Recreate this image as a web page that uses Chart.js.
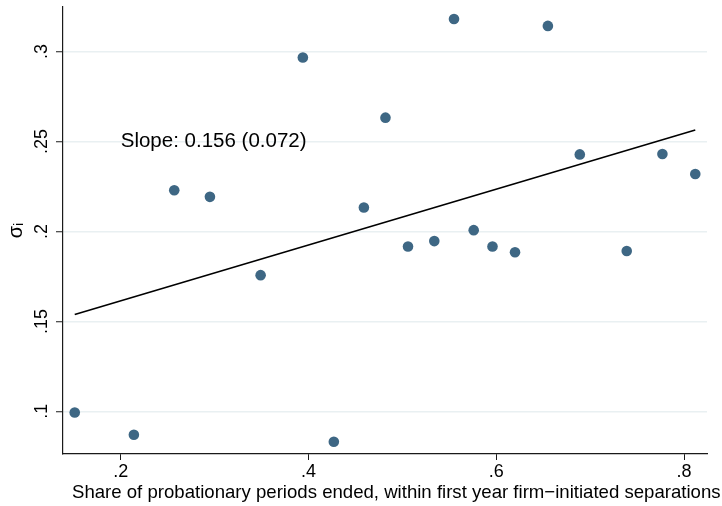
<!DOCTYPE html>
<html>
<head>
<meta charset="utf-8">
<script src="https://cdn.jsdelivr.net/npm/chart.js@4/dist/chart.umd.min.js"></script>
<style>
  html, body { margin: 0; padding: 0; background: #fff; }
  #wrap { width: 722px; height: 506px; position: relative; }
</style>
</head>
<body>
<div id="wrap"><canvas id="scatterChart"></canvas></div>
<script>
// DATA
const shareEnded = [0.151, 0.214, 0.257, 0.295, 0.349, 0.394, 0.427, 0.459, 0.482, 0.506,
                    0.534, 0.555, 0.576, 0.596, 0.620, 0.655, 0.689, 0.739, 0.777, 0.812];
const sigmaI = [0.0994, 0.0870, 0.2229, 0.2192, 0.1757, 0.2966, 0.0831, 0.2133, 0.2632, 0.1916,
                0.1946, 0.3180, 0.2007, 0.1916, 0.1884, 0.3142, 0.2428, 0.1891, 0.2430, 0.2319];

// fitted line end points
const fitX = [0.151, 0.812];
const fitY = [0.1538, 0.2564];

const xTicks = [0.2, 0.4, 0.6, 0.8];
const yTicks = [0.1, 0.15, 0.2, 0.25, 0.3];
const xRange = [0.1385, 0.8245];
const yRange = [0.0763, 0.3247];

const slopeText = "Slope: 0.156 (0.072)";
const slopeAt = [0.2, 0.25];

const xTitle = "Share of probationary periods ended, within first year firm\u2212initiated separations";
const yTitle = "\u03C3\u1D62";

const FONT = '"Liberation Sans", Arial, Helvetica, sans-serif';
const dotColor = "#3e6784";
const gridColor = "#e9f0f2";
const axisColor = "#1a1a1a";

// ".2" style labels, like Stata
function fmt(v) {
  return String(+v.toFixed(3)).replace(/^0\./, ".");
}

// y tick labels drawn rotated, the x title, and the slope note
const overlay = {
  id: "overlay",
  afterDraw(chart) {
    const { ctx, scales: { x, y } } = chart;
    ctx.save();
    ctx.fillStyle = "#000";
    ctx.font = "18px " + FONT;
    ctx.textAlign = "center";
    ctx.textBaseline = "alphabetic";
    yTicks.forEach(v => {
      ctx.save();
      ctx.translate(47, y.getPixelForValue(v));
      ctx.rotate(-Math.PI / 2);
      ctx.fillText(fmt(v), 0, 0);
      ctx.restore();
    });

    // x title (overhangs the plot on the right, as in the original)
    ctx.font = "18.6px " + FONT;
    ctx.textAlign = "left";
    ctx.fillText(xTitle, 72, 498);

    ctx.font = "20.5px " + FONT;
    ctx.textBaseline = "middle";
    ctx.fillText(slopeText, x.getPixelForValue(slopeAt[0]), y.getPixelForValue(slopeAt[1]));
    ctx.restore();
  }
};

const ctx = document.getElementById("scatterChart").getContext("2d");

new Chart(ctx, {
  data: {
    datasets: [
      {
        type: "scatter",
        data: shareEnded.map((v, i) => ({ x: v, y: sigmaI[i] })),
        backgroundColor: dotColor,
        borderColor: dotColor,
        borderWidth: 0,
        pointRadius: 5.3,
        order: 2
      },
      {
        type: "line",
        data: fitX.map((v, i) => ({ x: v, y: fitY[i] })),
        borderColor: "#000",
        borderWidth: 1.6,
        pointRadius: 0,
        fill: false,
        tension: 0,
        order: 1
      }
    ]
  },
  options: {
    responsive: true,
    maintainAspectRatio: false,
    animation: false,
    layout: { padding: { top: 7, right: 15, bottom: 0, left: 0 } },
    plugins: {
      legend: { display: false },
      tooltip: { enabled: false }
    },
    scales: {
      x: {
        type: "linear",
        min: xRange[0],
        max: xRange[1],
        afterBuildTicks: s => { s.ticks = xTicks.map(v => ({ value: v })); },
        afterFit: s => { s.height = 52; },
        ticks: {
          color: "#000",
          font: { family: FONT, size: 18 },
          padding: 1,
          maxRotation: 0,
          callback: v => fmt(v)
        },
        grid: {
          drawOnChartArea: false,
          tickLength: 6,
          tickColor: axisColor,
          tickWidth: 1
        },
        border: { display: true, color: axisColor, width: 1.2 }
      },
      y: {
        type: "linear",
        min: yRange[0],
        max: yRange[1],
        afterBuildTicks: s => { s.ticks = yTicks.map(v => ({ value: v })); },
        afterFit: s => { s.width = 63; },
        ticks: { display: false },
        grid: {
          color: gridColor,
          lineWidth: 1.5,
          tickLength: 7,
          tickColor: axisColor,
          tickWidth: 1
        },
        border: { display: true, color: axisColor, width: 1.2 },
        title: {
          display: true,
          text: yTitle,
          color: "#000",
          font: { family: FONT, size: 20 },
          padding: { top: 4, bottom: 0 }
        }
      }
    }
  },
  plugins: [overlay]
});
</script>
</body>
</html>
